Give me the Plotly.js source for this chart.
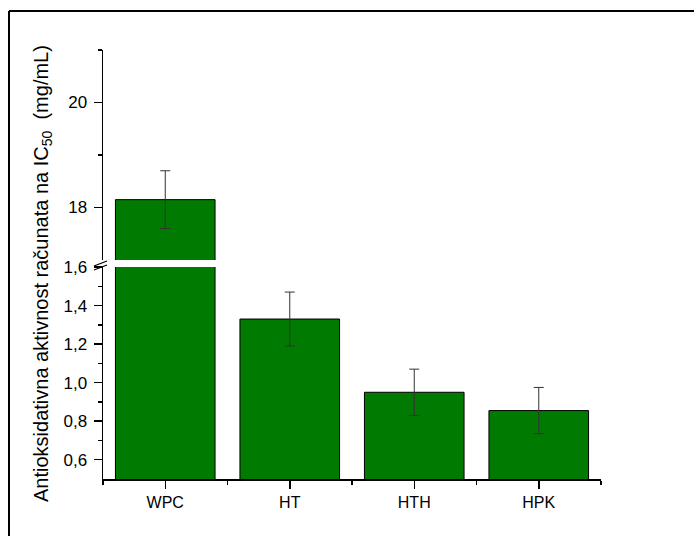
<!DOCTYPE html>
<html>
<head>
<meta charset="utf-8">
<script src="https://cdn.plot.ly/plotly-3.0.1.min.js"></script>
<style>
html,body{margin:0;padding:0;background:#fff;}
#chart{width:694px;height:536px;}
</style>
</head>
<body>
<div id="chart"></div>
<script>
var categories = ['WPC', 'HT', 'HTH', 'HPK'];
var values = [18.15, 1.33, 0.95, 0.855];
var errors = [0.55, 0.14, 0.12, 0.12];
var lowerTicks = [0.6, 0.8, 1.0, 1.2, 1.4, 1.6];
var upperTicks = [18, 20];

var idx = categories.map(function (c, i) { return i; });
var green = '#007a00';
var font = 'Liberation Sans, Arial, sans-serif';

var barStyle = { color: green, line: { color: '#000', width: 1 } };
var errStyle = { type: 'data', visible: true, color: '#333', thickness: 1, width: 5 };

var traces = [
  {
    type: 'bar', x: [idx[0]], y: [values[0]], width: 0.8,
    marker: barStyle, xaxis: 'x', yaxis: 'y', hoverinfo: 'skip'
  },
  {
    type: 'bar', x: idx.slice(1), y: values.slice(1), width: 0.8,
    marker: barStyle, xaxis: 'x', yaxis: 'y',
    error_y: Object.assign({ array: errors.slice(1) }, errStyle)
  },
  {
    type: 'bar', x: [idx[0]], y: [values[0]], width: 0.8,
    marker: barStyle, xaxis: 'x', yaxis: 'y2',
    error_y: Object.assign({ array: [errors[0]] }, errStyle)
  }
];

var L = 103, R = 601, T = 50, B = 479, W = 694, H = 536;
function px(x) { return (x - L) / (R - L); }
function py(y) { return (B - y) / (B - T); }

var tickFont = { family: font, size: 17, color: '#000' };

var layout = {
  width: W, height: H,
  margin: { l: L, r: W - R, t: T, b: H - B, pad: 0 },
  paper_bgcolor: '#fff', plot_bgcolor: '#fff',
  showlegend: false,
  barmode: 'overlay',
  separators: ',.',
  font: { family: font, size: 16, color: '#000' },
  xaxis: {
    range: [-0.5, 3.5], showgrid: false, zeroline: false,
    showline: true, linecolor: '#000', linewidth: 1.5,
    tickmode: 'array', tickvals: idx, ticktext: categories,
    ticks: 'outside', ticklen: 8, tickwidth: 1.5, tickcolor: '#000',
    tickfont: { family: font, size: 16, color: '#000' },
    minor: { tickmode: 'array', tickvals: [-0.5, 0.5, 1.5, 2.5, 3.5], ticks: 'outside', ticklen: 4, tickwidth: 1.5, tickcolor: '#000' },
    fixedrange: true
  },
  yaxis: {
    domain: [0, py(267)], range: [0.5, 1.6],
    showgrid: false, zeroline: false,
    showline: true, linecolor: '#000', linewidth: 1.5,
    tickmode: 'array', tickvals: lowerTicks, tickformat: '.1f',
    ticks: 'outside', ticklen: 8, tickwidth: 1.5, tickcolor: '#000',
    ticklabelstandoff: 3,
    tickfont: tickFont,
    minor: { tickmode: 'array', tickvals: [0.7, 0.9, 1.1, 1.3, 1.5], ticks: 'outside', ticklen: 4, tickwidth: 1.5, tickcolor: '#000' },
    fixedrange: true
  },
  yaxis2: {
    domain: [py(260), 1], range: [17, 21], anchor: 'x',
    showgrid: false, zeroline: false,
    showline: true, linecolor: '#000', linewidth: 1.5,
    tickmode: 'array', tickvals: upperTicks,
    ticks: 'outside', ticklen: 8, tickwidth: 1.5, tickcolor: '#000',
    ticklabelstandoff: 3,
    tickfont: tickFont,
    minor: { tickmode: 'array', tickvals: [19, 21], ticks: 'outside', ticklen: 4, tickwidth: 1.5, tickcolor: '#000' },
    fixedrange: true
  },
  annotations: [{
    xref: 'paper', yref: 'paper', x: px(42), y: py(274),
    xanchor: 'center', yanchor: 'middle', textangle: -90, showarrow: false,
    text: 'Antioksidativna aktivnost računata na IC<sub>50</sub>  (mg/mL)',
    font: { family: font, size: 20, color: '#000' }
  }],
  shapes: [
    { type: 'line', xref: 'paper', yref: 'paper', x0: px(94), y0: py(266), x1: px(107), y1: py(261), line: { color: '#000', width: 1.3 } },
    { type: 'line', xref: 'paper', yref: 'paper', x0: px(94), y0: py(270), x1: px(107), y1: py(265), line: { color: '#000', width: 1.3 } },
    { type: 'line', xref: 'paper', yref: 'paper', x0: px(9), y0: py(11), x1: px(700), y1: py(11), line: { color: '#000', width: 2 } },
    { type: 'line', xref: 'paper', yref: 'paper', x0: px(9), y0: py(11), x1: px(9), y1: py(540), line: { color: '#000', width: 2 } }
  ]
};

Plotly.newPlot('chart', traces, layout, { displayModeBar: false, staticPlot: true });
</script>
</body>
</html>
